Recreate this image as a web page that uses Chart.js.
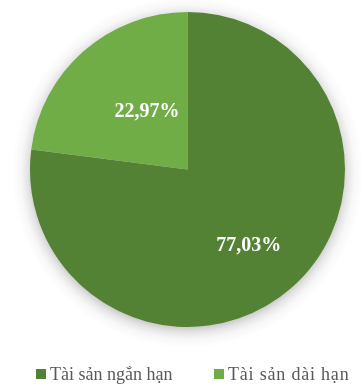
<!doctype html>
<html>
<head>
<meta charset="utf-8">
<title>Pie Chart</title>
<script src="https://cdn.jsdelivr.net/npm/chart.js@4.4.0/dist/chart.umd.min.js"></script>
<style>
  html, body { margin: 0; padding: 0; background: #fff; }
  #container { width: 363px; height: 385px; }
</style>
</head>
<body>
<div id="container"><canvas id="pie-chart"></canvas></div>
<script>
var labels = ['Tài sản ngắn hạn', 'Tài sản dài hạn'];
var values = [77.03, 22.97];
var colors = ['#548235', '#70AD47'];
var labelDist = [0.613, 0.457];
var labelTurn = [2, 7]; // degrees, nudges label off the slice mid line
var legendX = [36, 214];
var legendTrack = ['0px', '0.8px'];

var serif = '"Liberation Serif", "Times New Roman", serif';

function fmt(v) {
  return v.toFixed(2).replace('.', ',') + '%';
}

// soft halo around the pie, done with a radial gradient
var pieShadow = {
  id: 'pieShadow',
  beforeDatasetsDraw: function(chart) {
    var arc = chart.getDatasetMeta(0).data[0];
    if (!arc) return;
    var ctx = chart.ctx;
    var cx = arc.x, cy = arc.y + 3, r = arc.outerRadius;
    var g = ctx.createRadialGradient(cx, cy, r - 4, cx, cy, r + 18);
    g.addColorStop(0, 'rgba(0,0,0,0.22)');
    g.addColorStop(0.3, 'rgba(0,0,0,0.10)');
    g.addColorStop(0.6, 'rgba(0,0,0,0.03)');
    g.addColorStop(1, 'rgba(0,0,0,0)');
    ctx.save();
    ctx.fillStyle = g;
    ctx.beginPath();
    ctx.arc(cx, cy, r + 18, 0, Math.PI * 2);
    ctx.fill();
    ctx.restore();
  }
};

// percentage labels inside the slices
var sliceLabels = {
  id: 'sliceLabels',
  afterDatasetsDraw: function(chart) {
    var ctx = chart.ctx;
    var meta = chart.getDatasetMeta(0);
    ctx.save();
    ctx.fillStyle = '#fff';
    ctx.font = 'bold 20px ' + serif;
    ctx.textAlign = 'center';
    ctx.textBaseline = 'middle';
    meta.data.forEach(function(arc, i) {
      var mid = (arc.startAngle + arc.endAngle) / 2 + labelTurn[i] * Math.PI / 180;
      var r = arc.outerRadius * labelDist[i];
      ctx.fillText(fmt(values[i]), arc.x + Math.cos(mid) * r, arc.y + Math.sin(mid) * r + 2);
    });
    ctx.restore();
  }
};

// legend on one row under the pie
var bottomLegend = {
  id: 'bottomLegend',
  afterDraw: function(chart) {
    var ctx = chart.ctx;
    ctx.save();
    ctx.font = '18px ' + serif;
    ctx.textBaseline = 'alphabetic';
    labels.forEach(function(lab, i) {
      ctx.fillStyle = colors[i];
      ctx.fillRect(legendX[i], 369, 10, 10);
      ctx.fillStyle = '#595959';
      ctx.letterSpacing = legendTrack[i];
      ctx.fillText(lab, legendX[i] + 14, 380);
    });
    ctx.restore();
  }
};

new Chart(document.getElementById('pie-chart'), {
  type: 'pie',
  data: {
    labels: labels,
    datasets: [{
      data: values,
      backgroundColor: colors,
      borderWidth: 0
    }]
  },
  options: {
    responsive: true,
    maintainAspectRatio: false,
    animation: false,
    layout: { padding: { top: 12, left: 30, right: 18, bottom: 58 } },
    plugins: {
      legend: { display: false },
      tooltip: { enabled: false }
    }
  },
  plugins: [pieShadow, sliceLabels, bottomLegend]
});
</script>
</body>
</html>
